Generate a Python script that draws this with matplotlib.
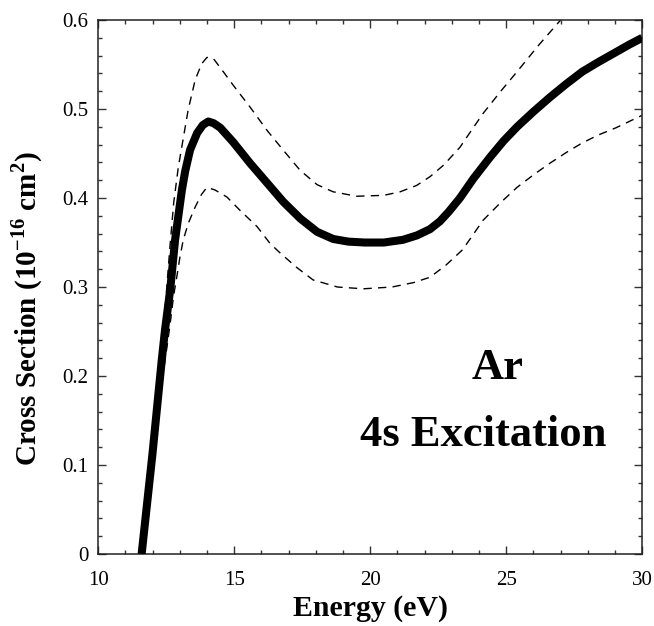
import numpy as np
import matplotlib
matplotlib.use("Agg")
import matplotlib.pyplot as plt
from matplotlib.ticker import MultipleLocator

# Ar 4s excitation cross section
energy = [11.6, 12.0, 12.34, 12.46, 12.65, 12.83, 13.08, 13.2, 13.38, 13.64, 13.85,
          14.05, 14.25, 14.49, 14.96, 15.59, 16.21, 16.8, 17.43, 18.05, 18.64, 19.2,
          19.8, 20.5, 21.2, 21.72, 22.2, 22.57, 22.9, 23.3, 23.8, 24.41, 24.9, 25.4,
          26.0, 26.6, 27.2, 27.8, 28.4, 29.04, 29.5, 30.0]
sigma = [0.0, 0.113, 0.218, 0.252, 0.297, 0.353, 0.409, 0.430, 0.454, 0.473, 0.482,
         0.486, 0.484, 0.479, 0.463, 0.439, 0.417, 0.396, 0.377, 0.362, 0.354, 0.351,
         0.350, 0.350, 0.353, 0.358, 0.365, 0.374, 0.385, 0.400, 0.422, 0.446, 0.464,
         0.480, 0.497, 0.513, 0.528, 0.542, 0.553, 0.564, 0.572, 0.580]

energy_hi = [11.6, 12.0, 12.38, 12.5, 12.64, 12.78, 12.95, 13.13, 13.31, 13.57, 13.81,
             14.0, 14.23, 14.6, 14.96, 15.59, 16.21, 16.8, 17.43, 18.05, 18.64, 19.5,
             20.5, 21.1, 21.7, 22.2, 22.7, 23.3, 23.7, 24.15, 24.8, 25.4, 26.2, 27.0]
sigma_hi = [0.0, 0.113, 0.24, 0.29, 0.345, 0.395, 0.435, 0.467, 0.499, 0.533, 0.551,
            0.558, 0.557, 0.542, 0.527, 0.502, 0.476, 0.454, 0.431, 0.415, 0.407, 0.402,
            0.403, 0.407, 0.414, 0.424, 0.437, 0.457, 0.475, 0.495, 0.520, 0.542, 0.572,
            0.600]

energy_lo = [11.6, 12.0, 12.2, 12.45, 12.65, 12.77, 12.89, 13.01, 13.13, 13.32, 13.57,
             13.8, 14.0, 14.3, 14.74, 15.22, 15.84, 16.32, 16.7, 17.3, 17.9, 18.8, 19.75,
             20.8, 21.6, 22.2, 22.8, 23.4, 24.15, 24.8, 25.4, 26.0, 26.6, 27.2, 27.8,
             28.4, 29.04, 30.0]
sigma_lo = [0.0, 0.113, 0.17, 0.215, 0.259, 0.289, 0.311, 0.334, 0.353, 0.372, 0.39,
            0.404, 0.412, 0.409, 0.401, 0.386, 0.368, 0.349, 0.338, 0.322, 0.308, 0.300,
            0.298, 0.300, 0.305, 0.311, 0.325, 0.342, 0.375, 0.395, 0.412, 0.426, 0.439,
            0.451, 0.462, 0.471, 0.479, 0.493]

plt.rcParams["font.family"] = ["Liberation Serif", "DejaVu Serif"]
plt.rcParams["mathtext.fontset"] = "custom"
plt.rcParams["mathtext.rm"] = "Liberation Serif"
plt.rcParams["mathtext.bf"] = "Liberation Serif:bold"

fig = plt.figure(figsize=(6.54, 6.26), dpi=100)
ax = fig.add_axes([0.150, 0.115, 0.832, 0.853])

ax.plot(energy_hi, sigma_hi, color="black", lw=1.0, dashes=(6, 4.5), zorder=2)
ax.plot(energy_lo, sigma_lo, color="black", lw=1.0, dashes=(6, 4.5), zorder=2)
ax.plot(energy, sigma, color="black", lw=5.8, solid_joinstyle="round",
        solid_capstyle="butt", zorder=3)

ax.set_xlim(10, 30)
ax.set_ylim(0, 0.6)
ax.xaxis.set_major_locator(MultipleLocator(5))
ax.xaxis.set_minor_locator(MultipleLocator(1))
ax.yaxis.set_minor_locator(MultipleLocator(0.02))
ax.set_yticks([0, 0.1, 0.2, 0.3, 0.4, 0.5, 0.6])
ax.set_yticklabels(["0", "0.1", "0.2", "0.3", "0.4", "0.5", "0.6"])
ax.tick_params(which="both", direction="in", top=True, right=True,
               labelsize=15, color="#333333", width=1.0)
ax.tick_params(which="major", length=6, pad=7)
ax.tick_params(axis="x", which="major", pad=12)
ax.tick_params(which="minor", length=3)
for s in ax.spines.values():
    s.set_linewidth(1.1)
    s.set_color("#222222")

ax.set_xlabel("Energy (eV)", fontsize=21.5, fontweight="bold")
ax.xaxis.set_label_coords(0.5, -0.076)
ax.set_ylabel(r"Cross Section (10$^{\mathbf{-16}}$ cm$^{\mathbf{2}}$)",
              fontsize=21, fontweight="bold")
ax.yaxis.set_label_coords(-0.098, 0.46)

ax.text(24.7, 0.209, "Ar", fontsize=32, fontweight="bold", ha="center", va="center")
ax.text(24.15, 0.134, "4s Excitation", fontsize=32, fontweight="bold",
        ha="center", va="center")

fig.savefig("out.png", dpi=100)
